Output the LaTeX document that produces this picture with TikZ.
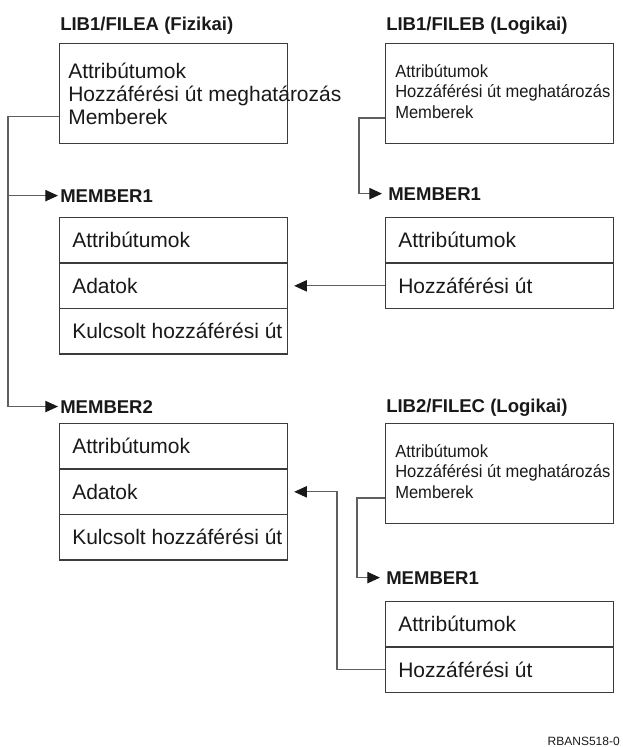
\documentclass[tikz,border=0pt]{standalone}
\usepackage{fontspec}
\setmainfont{Liberation Sans}
\newfontfamily\narrowsans[FakeStretch=0.94]{Liberation Sans}
\usetikzlibrary{arrows.meta,calc}
\definecolor{boxgray}{RGB}{60,60,60}
\definecolor{linegray}{RGB}{95,95,95}
\definecolor{ink}{RGB}{25,25,25}
\begin{document}
\begin{tikzpicture}[x=0.75pt,y=-0.75pt,
  every node/.style={text=ink},
  filebox/.style={draw=boxgray, line width=0.9pt, minimum width=171pt, minimum height=75pt, anchor=north west, inner sep=0pt},
  rowbox/.style={draw=boxgray, line width=0.9pt, minimum width=171pt, minimum height=34.1pt, anchor=north west, inner sep=0pt},
  rowtext/.style={anchor=west, inner sep=0pt, xshift=9.75pt, font=\fontsize{15.75pt}{18pt}\selectfont},
  bigtext/.style={anchor=base west, inner sep=0pt, font=\fontsize{15.75pt}{18pt}\selectfont},
  smalltext/.style={anchor=base west, inner sep=0pt, font=\narrowsans\fontsize{13.2pt}{15pt}\selectfont},
  title/.style={anchor=base west, inner sep=0pt, font=\bfseries\fontsize{13.9pt}{16pt}\selectfont},
  conn/.style={draw=linegray, line width=0.85pt},
  arr/.style={-{Triangle[length=9.5pt,width=8.5pt,color=ink]}},
]
\useasboundingbox (0,0) rectangle (622,747);

% ---------- LIB1/FILEA (physical file) ----------
\node[title] (titleA) at (60,30) {LIB1/FILEA (Fizikai)};
\node[filebox] (fileA) at (59,43) {};
\node[bigtext] (fileA-attr) at (68,78) {Attribútumok};
\node[bigtext] (fileA-hoz) at (68,101) {Hozzáférési út meghatározás};
\node[bigtext] (fileA-mem) at (68,124) {Memberek};

\node[title] (mA1lab) at (60,202) {MEMBER1};
\node[rowbox] (am1-attr) at (59,217) {};
\node[rowbox] (am1-adat) at (59,262.5) {};
\node[rowbox] (am1-kulcs) at (59,308) {};
\node[rowtext] (am1-attr-t) at (am1-attr.west) {Attribútumok};
\node[rowtext] (am1-adat-t) at (am1-adat.west) {Adatok};
\node[rowtext] (am1-kulcs-t) at (am1-kulcs.west) {Kulcsolt hozzáférési út};

\node[title] (mA2lab) at (60,413) {MEMBER2};
\node[rowbox] (am2-attr) at (59,423) {};
\node[rowbox] (am2-adat) at (59,468.5) {};
\node[rowbox] (am2-kulcs) at (59,514) {};
\node[rowtext] (am2-attr-t) at (am2-attr.west) {Attribútumok};
\node[rowtext] (am2-adat-t) at (am2-adat.west) {Adatok};
\node[rowtext] (am2-kulcs-t) at (am2-kulcs.west) {Kulcsolt hozzáférési út};

% ---------- LIB1/FILEB (logical file) ----------
\node[title] (titleB) at (386,30) {LIB1/FILEB (Logikai)};
\node[filebox] (fileB) at (385,43) {};
\node[smalltext] (fileB-attr) at (395,77) {Attribútumok};
\node[smalltext] (fileB-hoz) at (395,97.5) {Hozzáférési út meghatározás};
\node[smalltext] (fileB-mem) at (395,118) {Memberek};

\node[title] (mB1lab) at (388,200) {MEMBER1};
\node[rowbox] (bm1-attr) at (385,217) {};
\node[rowbox] (bm1-hoz) at (385,262.5) {};
\node[rowtext] (bm1-attr-t) at (bm1-attr.west) {Attribútumok};
\node[rowtext] (bm1-hoz-t) at (bm1-hoz.west) {Hozzáférési út};

% ---------- LIB2/FILEC (logical file) ----------
\node[title] (titleC) at (386,412) {LIB2/FILEC (Logikai)};
\node[filebox] (fileC) at (385,423) {};
\node[smalltext] (fileC-attr) at (395,457) {Attribútumok};
\node[smalltext] (fileC-hoz) at (395,477.5) {Hozzáférési út meghatározás};
\node[smalltext] (fileC-mem) at (395,498) {Memberek};

\node[title] (mC1lab) at (386,584) {MEMBER1};
\node[rowbox] (cm1-attr) at (385,601) {};
\node[rowbox] (cm1-hoz) at (385,646.5) {};
\node[rowtext] (cm1-attr-t) at (cm1-attr.west) {Attribútumok};
\node[rowtext] (cm1-hoz-t) at (cm1-hoz.west) {Hozzáférési út};

% ---------- connectors ----------
\coordinate (tA) at (8,0);
\coordinate (tB) at (359,0);
\coordinate (tC) at (357,0);
\coordinate (tD) at (337,0);

% FILEA members
\draw[conn,arr,shorten >=1.5pt] (fileA.west |- fileA-mem.center) -- (tA |- fileA-mem.center) |- (mA2lab.west);
\draw[conn,arr,shorten >=1.5pt] (tA |- mA1lab.west) -- (mA1lab.west);

% FILEB member
\draw[conn,arr,shorten >=4.5pt] (fileB.west |- fileB-mem.base) -- (tB |- fileB-mem.base) |- (mB1lab.west);

% FILEC member
\draw[conn,arr,shorten >=4.5pt] (fileC.west |- fileC-mem.base) -- (tC |- fileC-mem.base) |- (mC1lab.west);

% access paths over the physical data
\draw[conn,arr,shorten >=4.5pt] (bm1-hoz.west) -- (am1-adat.east);
\draw[conn,arr,shorten >=4.5pt] (cm1-hoz.west) -- (tD |- cm1-hoz.west) |- (am2-adat.east);

\node[anchor=base east, inner sep=0pt, font=\fontsize{9pt}{11pt}\selectfont] (figid) at (620,745) {RBANS518-0};
\end{tikzpicture}
\end{document}
